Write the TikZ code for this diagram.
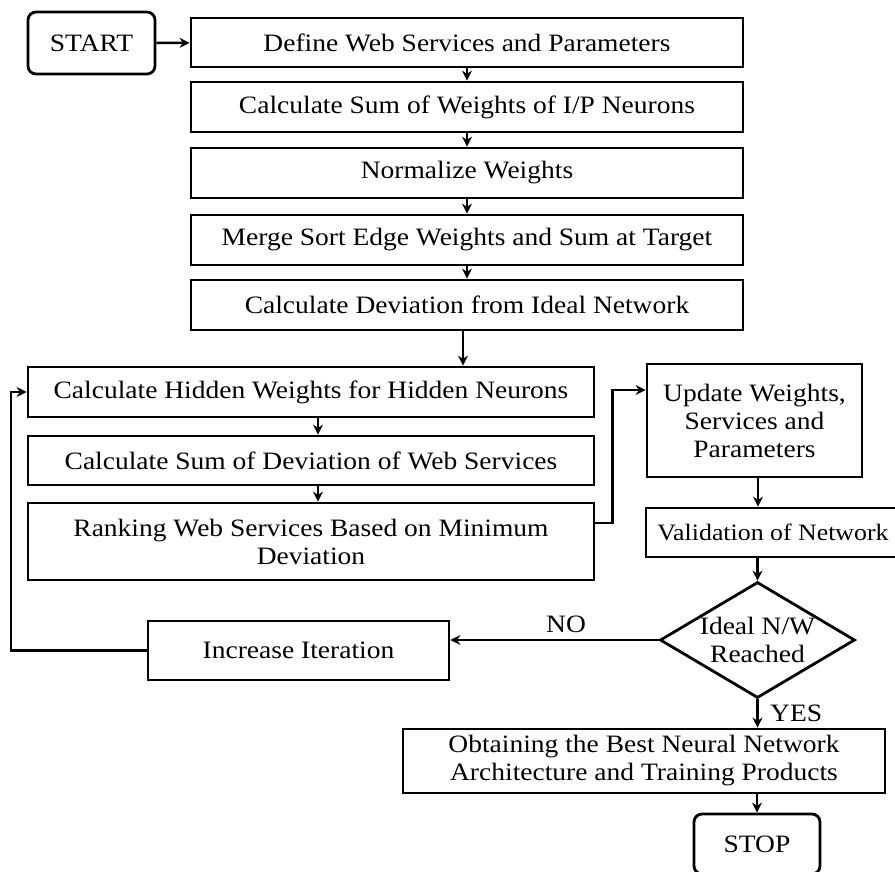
\documentclass[tikz,border=0pt]{standalone}
\usepackage{fontspec}
\setmainfont{Liberation Serif}[FakeStretch=1.1]
\usetikzlibrary{shapes.geometric,arrows.meta}
\tikzset{
  box/.style={draw, line width=2.8pt, rectangle, inner sep=2pt, align=center,
    font=\fontsize{25}{28}\selectfont},
  rbox/.style={box, rounded corners=8pt},
  decision/.style={draw, line width=2.8pt, diamond, inner sep=0pt, aspect=1.68,
    align=center, font=\fontsize{25}{28}\selectfont},
  arr/.style={line width=2.4pt, -{Stealth[length=10pt,width=10pt]}},
  lbl/.style={font=\fontsize{25}{28}\selectfont, inner sep=0pt}
}
\begin{document}
\begin{tikzpicture}[x=1pt,y=-1pt]
\useasboundingbox (0,0) rectangle (895,871);
% top column
\node[rbox, minimum width=127pt, minimum height=62pt] (start) at (91.5,43) {START};
\node[box, minimum width=552pt, minimum height=49pt] (b1) at (467,42.5) {Define Web Services and Parameters};
\node[box, minimum width=552pt, minimum height=50pt] (b2) at (467,107) {Calculate Sum of Weights of I/P Neurons};
\node[box, minimum width=552pt, minimum height=50pt] (b3) at (467,173) {Normalize Weights};
\node[box, minimum width=552pt, minimum height=50pt] (b4) at (467,240) {Merge Sort Edge Weights and Sum at Target};
\node[box, minimum width=552pt, minimum height=50pt] (b5) at (467,305) {Calculate Deviation from Ideal Network};
% left column
\node[box, minimum width=566pt, minimum height=50pt] (b6) at (311,392) {Calculate Hidden Weights for Hidden Neurons};
\node[box, minimum width=566pt, minimum height=49pt] (b7) at (311,460.5) {Calculate Sum of Deviation of Web Services};
\node[box, minimum width=566pt, minimum height=77pt] (b8) at (311,541.5) {Ranking Web Services Based on Minimum\\Deviation};
% right column
\node[box, minimum width=215pt, minimum height=113pt] (upd) at (754.5,420.5) {Update Weights,\\Services and\\Parameters};
\node[box, minimum width=254pt, minimum height=49pt, font=\fontsize{23.5}{28}\selectfont] (val) at (773,532.5) {Validation of Network};
\node[decision, minimum width=195pt, minimum height=116pt] (dia) at (757.5,640) {Ideal N/W\\Reached};
\node[box, minimum width=301pt, minimum height=59pt] (inc) at (298.5,650.5) {Increase Iteration};
\node[box, minimum width=482pt, minimum height=64pt] (obt) at (644,761) {Obtaining the Best Neural Network\\Architecture and Training Products};
\node[rbox, minimum width=126pt, minimum height=60pt] (stop) at (757,844) {STOP};
% labels
\node[lbl] (no) at (566,624) {NO};
\node[lbl, anchor=west] (yes) at (770,713) {YES};
% connectors
\draw[arr] (start) -- (b1);
\draw[arr] (b1) -- (b2);
\draw[arr] (b2) -- (b3);
\draw[arr] (b3) -- (b4);
\draw[arr] (b4) -- (b5);
\draw[arr] ([xshift=-4pt]b5.south) -- ([xshift=-4pt]b5.south |- b6.north);
\draw[arr] ([xshift=7pt]b6.south) -- ([xshift=7pt]b7.north);
\draw[arr] ([xshift=7pt]b7.south) -- ([xshift=7pt]b8.north);
\draw[arr] ([yshift=18.5pt]b8.east) -- ++(17,0) |- ([yshift=30.5pt]upd.west);
\draw[arr] ([xshift=3.5pt]upd.south) -- ([xshift=3.5pt]upd.south |- val.north);
\draw[arr] (val.south -| dia.north) -- (dia.north);
\draw[arr] (dia.west) -- (dia.west -| inc.east);
\coordinate (fb) at (11,650.5);
\draw[arr] (inc.west) -- (fb) |- (b6.west);
\draw[arr] (dia.south) -- (dia.south |- obt.north);
\draw[arr] (obt.south -| stop.north) -- (stop.north);
\end{tikzpicture}
\end{document}
